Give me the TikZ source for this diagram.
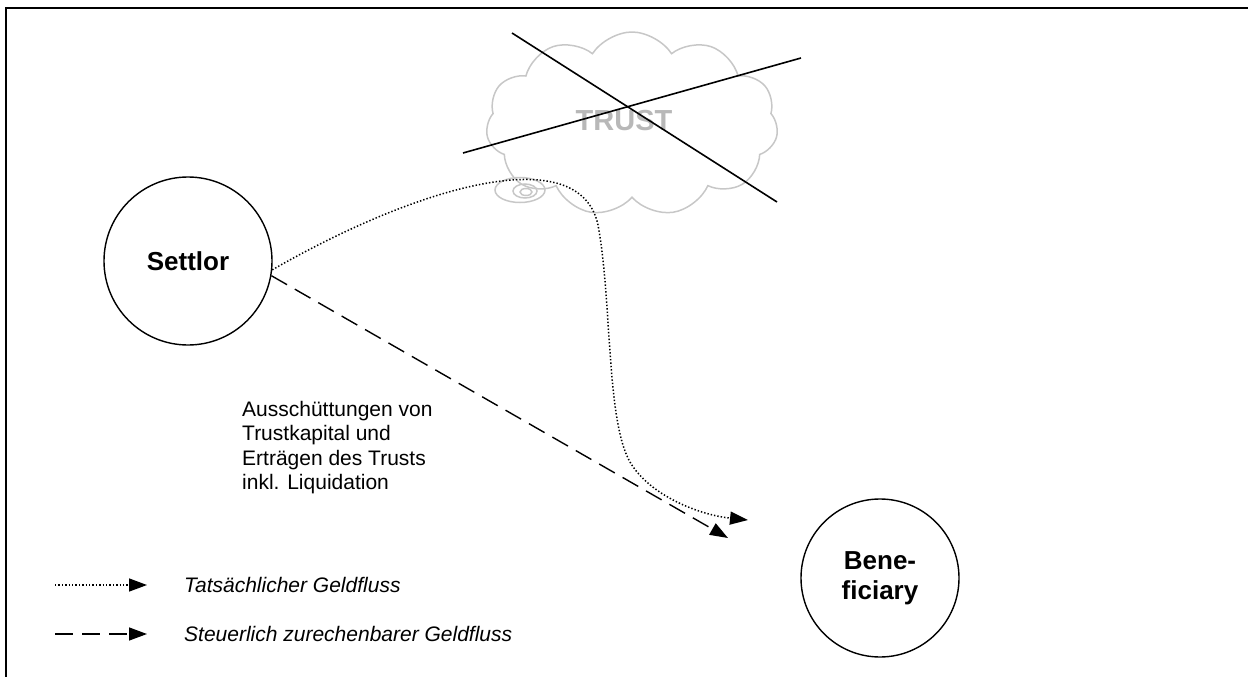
\documentclass[tikz,border=0pt]{standalone}
\usepackage{fontspec}
\setmainfont{Liberation Sans}
\usetikzlibrary{arrows.meta,shapes.symbols,shapes.geometric}
\begin{document}
\begin{tikzpicture}[x=1pt,y=-1pt,
  circ/.style={circle,draw,line width=1.4pt,minimum size=168pt,inner sep=0pt,
    font=\fontsize{26}{30}\selectfont\bfseries,align=center},
  tip/.style={-{Triangle[length=18pt,width=13pt]}},
  dottedline/.style={line width=1.5pt,dash pattern=on 1.4pt off 2pt},
  dashedline/.style={line width=1.4pt,dash pattern=on 18pt off 9pt},
  cloudgray/.style={draw=black!22,line width=1.5pt},
  crossline/.style={line width=1.6pt},
  lbl/.style={font=\fontsize{21}{24.5}\selectfont,inner sep=0pt,align=left},
  legend/.style={font=\fontsize{21}{24.5}\selectfont\itshape,inner sep=0pt,anchor=west}]
\useasboundingbox (0,0) rectangle (1248,677);
% frame
\coordinate (fa) at (6,677);
\coordinate (fb) at (6,8);
\coordinate (fc) at (1248,8);
\draw[line width=2pt] (fa) -- (fb) -- (fc);
% cloud
\node[cloud,cloudgray,cloud puffs=11,cloud puff arc=115,aspect=1.6,
  minimum width=292pt,minimum height=184pt] (cloud) at (632,124) {};
\node[ellipse,cloudgray,minimum width=50pt,minimum height=25pt,inner sep=0pt] (sw1) at (520,190) {};
\node[ellipse,cloudgray,minimum width=24pt,minimum height=14pt,inner sep=0pt] (sw2) at (525,191) {};
\node[ellipse,cloudgray,minimum width=12pt,minimum height=7pt,inner sep=0pt] (sw3) at (526,192) {};
\node[font=\fontsize{29}{30}\selectfont\bfseries,text=black!28] (trust) at (624,121) {TRUST};
% crossing lines
\coordinate (c1a) at (512,33);
\coordinate (c1b) at (777,202);
\coordinate (c2a) at (463,153);
\coordinate (c2b) at (801,58);
\draw[crossline] (c1a) -- (c1b);
\draw[crossline] (c2a) -- (c2b);
% circles
\node[circ] (settlor) at (188,261) {Settlor};
\node[circ,minimum size=158pt] (bene) at (880,578) {Bene-\\ficiary};
% arrows
\coordinate (dtip) at (728,538);
\coordinate (ptip) at (748,520);
\draw[dashedline,tip] (settlor.-10) -- (dtip);
\draw[dottedline,tip] (settlor.-6) .. controls (420,185) and (580,140) .. (598,225)
  .. controls (612,300) and (606,420) .. (630,462)
  .. controls (650,496) and (700,515) .. (ptip);
% label
\node[lbl,anchor=north west] (txt) at (242,401) {Ausschüttungen von\\Trustkapital und\\Erträgen des Trusts\\inkl. Liquidation};
% legend
\coordinate (l1s) at (55,585);
\coordinate (l1e) at (147,585);
\coordinate (l2s) at (55,634);
\coordinate (l2e) at (147,634);
\draw[dottedline,tip] (l1s) -- (l1e);
\draw[dashedline,tip] (l2s) -- (l2e);
\node[legend] (leg1) at (184,585) {Tatsächlicher Geldfluss};
\node[legend] (leg2) at (184,634) {Steuerlich zurechenbarer Geldfluss};
\end{tikzpicture}
\end{document}
